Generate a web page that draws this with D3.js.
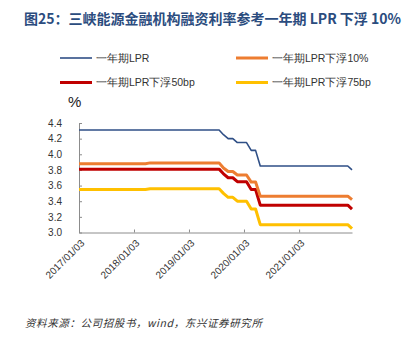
<!DOCTYPE html>
<html>
<head>
<meta charset="utf-8">
<script src="https://cdn.jsdelivr.net/npm/d3@7"></script>
<style>
  body { margin: 0; background: #fff; }
  svg { display: block; font-family: "Liberation Sans", Arial, sans-serif; }
</style>
</head>
<body>
<div id="chart"></div>
<script>
// rate change dates and the four series (%)
var dates = ["2017-01-03", "2018-03-20", "2018-04-20", "2019-07-22", "2019-08-20", "2019-09-20",
  "2019-10-21", "2019-11-20", "2020-01-20", "2020-02-20", "2020-03-20", "2020-04-20",
  "2021-11-22", "2021-12-20"];
var lpr   = [4.31, 4.31, 4.31, 4.31, 4.25, 4.20, 4.20, 4.15, 4.15, 4.05, 4.05, 3.85, 3.85, 3.80];
var lpr10 = [3.88, 3.88, 3.89, 3.89, 3.825, 3.78, 3.78, 3.735, 3.735, 3.645, 3.645, 3.465, 3.465, 3.42];
var lpr50 = [3.81, 3.81, 3.81, 3.81, 3.75, 3.70, 3.70, 3.65, 3.65, 3.55, 3.55, 3.35, 3.35, 3.30];
var lpr75 = [3.55, 3.55, 3.56, 3.56, 3.50, 3.45, 3.45, 3.40, 3.40, 3.30, 3.30, 3.10, 3.10, 3.05];
var seriesNames = ["一年期LPR", "一年期LPR下浮10%", "一年期LPR下浮50bp", "一年期LPR下浮75bp"];
var xTicks = ["2017-01-03", "2018-01-03", "2019-01-03", "2020-01-03", "2021-01-03"];
var yTicks = [3.0, 3.2, 3.4, 3.6, 3.8, 4.0, 4.2, 4.4];

var width = 409, height = 342;
var parse = d3.timeParse("%Y-%m-%d");
var fmt = d3.timeFormat("%Y/%m/%d");

var series = [
  { name: seriesNames[0], values: lpr,   color: "#2f4f86", w: 1.6 },
  { name: seriesNames[1], values: lpr10, color: "#ed7d31", w: 3 },
  { name: seriesNames[2], values: lpr50, color: "#c00000", w: 3 },
  { name: seriesNames[3], values: lpr75, color: "#ffc000", w: 3 }
];

var svg = d3.select("#chart").append("svg")
  .attr("width", width)
  .attr("height", height);

// title
svg.append("text")
  .attr("x", 24).attr("y", 24)
  .style("font-family", "'Noto Sans CJK SC', sans-serif")
  .style("font-size", "14px")
  .style("font-weight", "bold")
  .style("fill", "#2b4c7e")
  .text("图25：三峡能源金融机构融资利率参考一年期 LPR 下浮 10%");

var x = d3.scaleTime()
  .domain([parse(dates[0]), parse(dates[dates.length - 1])])
  .range([79, 352]);

var y = d3.scaleLinear()
  .domain([3.0, 4.4])
  .range([232.5, 123]);

// axes
var xAxis = svg.append("g")
  .attr("transform", "translate(0,232.5)")
  .call(d3.axisBottom(x)
    .tickValues(xTicks.map(parse))
    .tickFormat(fmt)
    .tickSizeInner(-3)
    .tickSizeOuter(0));

xAxis.selectAll("text")
  .attr("transform", "rotate(-45)")
  .attr("text-anchor", "end")
  .attr("dx", "-0.4em")
  .attr("dy", "0.9em")
  .style("font-size", "10px")
  .style("fill", "#333");

var yAxis = svg.append("g")
  .attr("transform", "translate(79,0)")
  .call(d3.axisLeft(y)
    .tickValues(yTicks)
    .tickFormat(d3.format(".1f"))
    .tickSizeInner(-3)
    .tickSizeOuter(0)
    .tickPadding(17));

yAxis.selectAll("text")
  .style("font-size", "10px")
  .style("fill", "#333");

svg.selectAll(".domain, .tick line")
  .attr("stroke", "#8c8c8c");

svg.append("text")
  .attr("x", 68).attr("y", 107)
  .style("font-size", "15px")
  .style("fill", "#222")
  .text("%");

// lines
var line = d3.line()
  .x(function(d, i) { return x(parse(dates[i])); })
  .y(function(d) { return y(d); });

svg.append("g").selectAll("path")
  .data(series.slice().reverse())
  .enter()
  .append("path")
  .attr("d", function(d) { return line(d.values); })
  .attr("fill", "none")
  .attr("stroke", function(d) { return d.color; })
  .attr("stroke-width", function(d) { return d.w; })
  .attr("stroke-linejoin", "round");

// legend
var legendPos = [[60, 58], [236, 58], [60, 82.5], [236, 82.5]];
var legend = svg.append("g").selectAll("g")
  .data(series)
  .enter()
  .append("g")
  .attr("transform", function(d, i) { return "translate(" + legendPos[i] + ")"; });

legend.append("line")
  .attr("x1", 0).attr("x2", 32)
  .attr("stroke", function(d) { return d.color; })
  .attr("stroke-width", function(d) { return d.w; });

legend.append("text")
  .attr("x", 36).attr("dy", "0.35em")
  .style("font-size", "10.5px")
  .style("fill", "#333")
  .text(function(d) { return d.name; });

// source note
svg.append("text")
  .attr("x", 25).attr("y", 327)
  .style("font-family", "'Noto Sans CJK SC', sans-serif")
  .style("font-size", "10.5px")
  .style("font-style", "italic")
  .style("letter-spacing", "0.6px")
  .style("fill", "#333")
  .text("资料来源：公司招股书，wind，东兴证券研究所");
</script>
</body>
</html>
